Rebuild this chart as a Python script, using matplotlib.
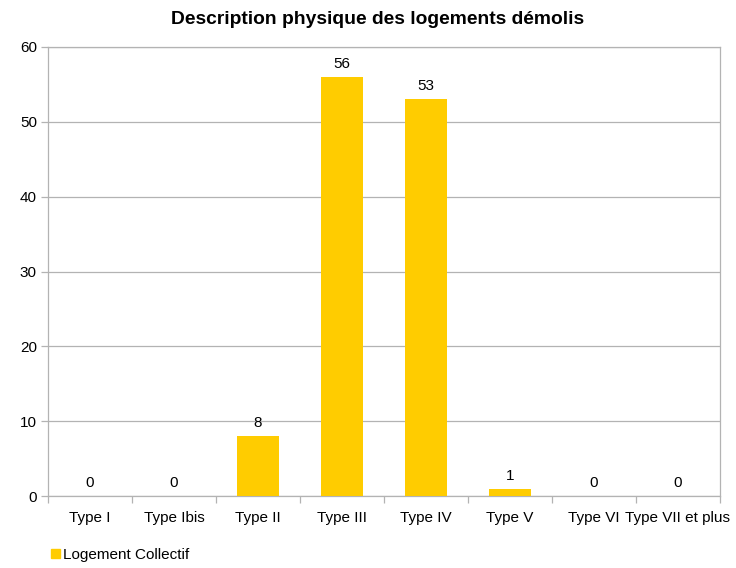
import matplotlib.pyplot as plt
from matplotlib.patches import Patch

plt.rcParams['font.family'] = ['Liberation Sans', 'DejaVu Sans']

categories = ['Type I', 'Type Ibis', 'Type II', 'Type III', 'Type IV',
              'Type V', 'Type VI', 'Type VII et plus']
values = [0, 0, 8, 56, 53, 1, 0, 0]
series_name = 'Logement Collectif'

bar_color = '#ffcc00'
grid_color = '#b3b3b3'

fig = plt.figure(figsize=(7.36, 5.68), dpi=100)
ax = fig.add_axes([48 / 736, 1 - 496 / 568, 672 / 736, 449 / 568])

x = list(range(len(categories)))
bars = ax.bar(x, values, width=0.5, color=bar_color, zorder=3)
for xi, v in zip(x, values):
    ax.text(xi, v + 0.8, str(v), ha='center', va='bottom', fontsize=11, color='#000000')

ax.set_xlim(-0.5, len(categories) - 0.5)
ax.set_ylim(0, 60)
ax.set_yticks(range(0, 61, 10))
ax.yaxis.grid(True, color=grid_color, linewidth=0.9, zorder=0)

ax.set_xticks(x)
ax.set_xticklabels(categories, fontsize=11)
ax.set_xticks([i - 0.5 for i in range(len(categories) + 1)], minor=True)
ax.tick_params(axis='x', which='major', length=0, pad=11)
ax.tick_params(axis='x', which='minor', length=5, color=grid_color, width=0.9)
ax.tick_params(axis='y', length=5, color=grid_color, width=0.9, labelsize=11, pad=3)

for s in ax.spines.values():
    s.set_color(grid_color)
    s.set_linewidth(0.9)

fig.text(378 / 736, 1 - 19 / 568, 'Description physique des logements démolis',
         ha='center', va='center', fontsize=13.9, fontweight='bold')

fig.legend(handles=[Patch(color=bar_color, label=series_name)],
           loc='center left', bbox_to_anchor=(51 / 736, 1 - 555 / 568),
           frameon=False, fontsize=11, handlelength=0.6, handleheight=0.6,
           handletextpad=0.2, borderpad=0, borderaxespad=0)

fig.savefig('out.png', dpi=100)
